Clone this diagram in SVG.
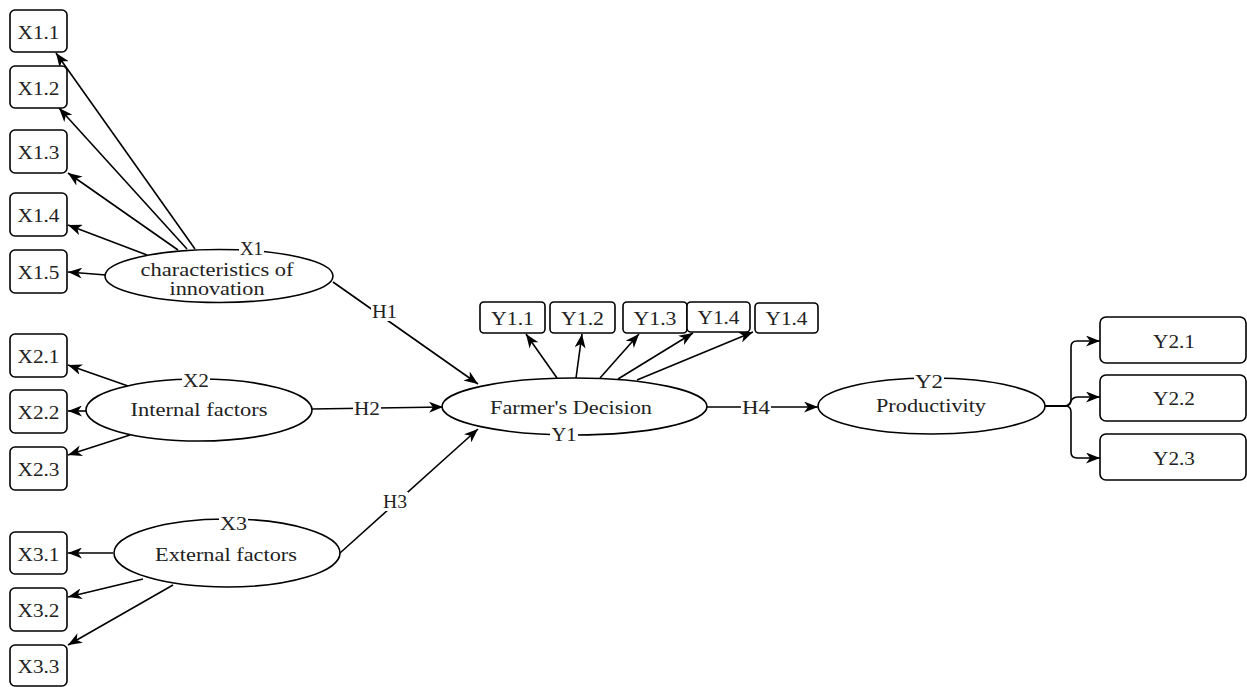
<svg xmlns="http://www.w3.org/2000/svg" width="1247" height="687" viewBox="0 0 1247 687">
<style>
.box{fill:#fff;stroke:#000;stroke-width:1.6}
.ell{fill:#fff;stroke:#000;stroke-width:1.6}
.t{font-family:"Liberation Serif","Times New Roman",serif;font-size:18px;fill:#222;text-anchor:middle}
.c{fill:none;stroke:#000;stroke-width:1.6;marker-end:url(#arr)}
.lb{fill:#fff}
</style>
<defs>
<marker id="arr" viewBox="0 0 14 11" refX="14" refY="5.5" markerWidth="14" markerHeight="11" orient="auto" markerUnits="userSpaceOnUse"><path d="M0,0 L14,5.5 L0,11 L4,5.5 z" fill="#000"/></marker>
</defs>
<rect width="1247" height="687" fill="#fff"/>

<g id="connectors">
<line class="c" x1="195" y1="249" x2="56" y2="53"/>
<line class="c" x1="187" y1="249" x2="59" y2="108"/>
<line class="c" x1="178" y1="250" x2="68" y2="173"/>
<line class="c" x1="147" y1="255" x2="68" y2="225"/>
<line class="c" x1="106" y1="275" x2="68" y2="272"/>
<line class="c" x1="128" y1="386" x2="68" y2="365"/>
<line class="c" x1="86" y1="411" x2="68" y2="411"/>
<line class="c" x1="130" y1="435" x2="68" y2="455"/>
<line class="c" x1="113" y1="553" x2="68" y2="553"/>
<line class="c" x1="143" y1="579" x2="68" y2="597"/>
<line class="c" x1="173" y1="585" x2="68" y2="645"/>
<line class="c" x1="333" y1="282" x2="478" y2="384"/>
<line class="c" x1="312" y1="409" x2="443" y2="407"/>
<line class="c" x1="340" y1="553" x2="478" y2="429"/>
<line class="c" x1="707" y1="407" x2="818" y2="407"/>
<line class="c" x1="557" y1="378" x2="526" y2="334"/>
<line class="c" x1="576" y1="378" x2="582" y2="334"/>
<line class="c" x1="600" y1="378" x2="639" y2="334"/>
<line class="c" x1="618" y1="379" x2="693" y2="333"/>
<line class="c" x1="637" y1="380" x2="753" y2="332"/>
<path class="c" d="M1045,406 L1065,406 Q1071,406 1071,400 L1071,347 Q1071,341 1077,341 L1100,341"/>
<path class="c" d="M1045,406 L1064,406 Q1069,406 1071,401 Q1073,397 1078,397 L1100,397"/>
<path class="c" d="M1045,406 L1065,406 Q1071,406 1071,412 L1071,452 Q1071,458 1077,458 L1100,458"/>
<rect class="lb" x="371" y="302" width="27" height="19"/>
<text class="t" x="384.5" y="318" textLength="25" lengthAdjust="spacingAndGlyphs">H1</text>
<rect class="lb" x="353" y="399" width="28" height="19"/>
<text class="t" x="367" y="415" textLength="26" lengthAdjust="spacingAndGlyphs">H2</text>
<rect class="lb" x="382" y="492" width="26" height="19"/>
<text class="t" x="395" y="508" textLength="24" lengthAdjust="spacingAndGlyphs">H3</text>
<rect class="lb" x="741" y="398" width="30" height="19"/>
<text class="t" x="756" y="414" textLength="28" lengthAdjust="spacingAndGlyphs">H4</text>
</g>

<g id="X1.1"><rect class="box" x="10" y="10" width="57" height="42" rx="5"/><text class="t" x="38.5" y="38.5" textLength="42" lengthAdjust="spacingAndGlyphs">X1.1</text></g>
<g id="X1.2"><rect class="box" x="10" y="66" width="57" height="42" rx="5"/><text class="t" x="38.5" y="94.5" textLength="42" lengthAdjust="spacingAndGlyphs">X1.2</text></g>
<g id="X1.3"><rect class="box" x="10" y="130" width="57" height="43" rx="5"/><text class="t" x="38.5" y="159" textLength="42" lengthAdjust="spacingAndGlyphs">X1.3</text></g>
<g id="X1.4"><rect class="box" x="10" y="193" width="57" height="43" rx="5"/><text class="t" x="38.5" y="222" textLength="42" lengthAdjust="spacingAndGlyphs">X1.4</text></g>
<g id="X1.5"><rect class="box" x="10" y="250" width="57" height="43" rx="5"/><text class="t" x="38.5" y="279" textLength="42" lengthAdjust="spacingAndGlyphs">X1.5</text></g>
<g id="X2.1"><rect class="box" x="10" y="334" width="57" height="43" rx="5"/><text class="t" x="38.5" y="363" textLength="42" lengthAdjust="spacingAndGlyphs">X2.1</text></g>
<g id="X2.2"><rect class="box" x="10" y="390" width="57" height="43" rx="5"/><text class="t" x="38.5" y="419" textLength="42" lengthAdjust="spacingAndGlyphs">X2.2</text></g>
<g id="X2.3"><rect class="box" x="10" y="447" width="57" height="43" rx="5"/><text class="t" x="38.5" y="476" textLength="42" lengthAdjust="spacingAndGlyphs">X2.3</text></g>
<g id="X3.1"><rect class="box" x="10" y="532" width="57" height="42" rx="5"/><text class="t" x="38.5" y="561" textLength="42" lengthAdjust="spacingAndGlyphs">X3.1</text></g>
<g id="X3.2"><rect class="box" x="10" y="588" width="57" height="43" rx="5"/><text class="t" x="38.5" y="617" textLength="42" lengthAdjust="spacingAndGlyphs">X3.2</text></g>
<g id="X3.3"><rect class="box" x="10" y="645" width="57" height="41" rx="5"/><text class="t" x="38.5" y="673" textLength="42" lengthAdjust="spacingAndGlyphs">X3.3</text></g>

<g id="X1">
<ellipse class="ell" cx="219" cy="276" rx="114" ry="26.5"/>
<text class="t" x="217" y="276" textLength="153" lengthAdjust="spacingAndGlyphs">characteristics of</text>
<text class="t" x="217" y="295" textLength="95" lengthAdjust="spacingAndGlyphs">innovation</text>
<rect class="lb" x="239" y="243" width="25" height="13"/>
<text class="t" x="251.5" y="255" textLength="23" lengthAdjust="spacingAndGlyphs">X1</text>
</g>
<g id="X2">
<ellipse class="ell" cx="199" cy="410" rx="113" ry="31"/>
<text class="t" x="199" y="416" textLength="137" lengthAdjust="spacingAndGlyphs">Internal factors</text>
<rect class="lb" x="182" y="374" width="28" height="13"/>
<text class="t" x="196" y="387" textLength="26" lengthAdjust="spacingAndGlyphs">X2</text>
</g>
<g id="X3">
<ellipse class="ell" cx="227" cy="553" rx="113" ry="34"/>
<text class="t" x="226" y="561" textLength="142" lengthAdjust="spacingAndGlyphs">External factors</text>
<rect class="lb" x="219" y="516" width="29" height="14"/>
<text class="t" x="233.5" y="530" textLength="27" lengthAdjust="spacingAndGlyphs">X3</text>
</g>

<g id="Y1.1"><rect class="box" x="480" y="302" width="65" height="31" rx="4"/><text class="t" x="512.5" y="325" textLength="43" lengthAdjust="spacingAndGlyphs">Y1.1</text></g>
<g id="Y1.2"><rect class="box" x="550" y="302" width="65" height="31" rx="4"/><text class="t" x="582.5" y="325" textLength="43" lengthAdjust="spacingAndGlyphs">Y1.2</text></g>
<g id="Y1.3"><rect class="box" x="623" y="302" width="64" height="31" rx="4"/><text class="t" x="655" y="325" textLength="43" lengthAdjust="spacingAndGlyphs">Y1.3</text></g>
<g id="Y1.4a"><rect class="box" x="687" y="302" width="63" height="30" rx="4"/><text class="t" x="718.5" y="324" textLength="42" lengthAdjust="spacingAndGlyphs">Y1.4</text></g>
<g id="Y1.4b"><rect class="box" x="755" y="303" width="63" height="30" rx="4"/><text class="t" x="786.5" y="325" textLength="42" lengthAdjust="spacingAndGlyphs">Y1.4</text></g>

<g id="Y1">
<ellipse class="ell" cx="574.5" cy="406.5" rx="132.5" ry="28.5"/>
<text class="t" x="571" y="414" textLength="162" lengthAdjust="spacingAndGlyphs">Farmer's Decision</text>
<rect class="lb" x="550" y="428" width="28" height="14"/>
<text class="t" x="564" y="441" textLength="25" lengthAdjust="spacingAndGlyphs">Y1</text>
</g>

<g id="Y2">
<ellipse class="ell" cx="931.5" cy="406" rx="113.5" ry="28"/>
<text class="t" x="931" y="412" textLength="110" lengthAdjust="spacingAndGlyphs">Productivity</text>
<rect class="lb" x="914" y="374" width="30" height="14"/>
<text class="t" x="929" y="388" textLength="28" lengthAdjust="spacingAndGlyphs">Y2</text>
</g>

<g id="Y2.1"><rect class="box" x="1100" y="317" width="146" height="46" rx="6"/><text class="t" x="1174" y="348" textLength="42" lengthAdjust="spacingAndGlyphs">Y2.1</text></g>
<g id="Y2.2"><rect class="box" x="1100" y="375" width="146" height="46" rx="6"/><text class="t" x="1174" y="405" textLength="42" lengthAdjust="spacingAndGlyphs">Y2.2</text></g>
<g id="Y2.3"><rect class="box" x="1100" y="434" width="146" height="46" rx="6"/><text class="t" x="1174" y="465" textLength="42" lengthAdjust="spacingAndGlyphs">Y2.3</text></g>
</svg>
